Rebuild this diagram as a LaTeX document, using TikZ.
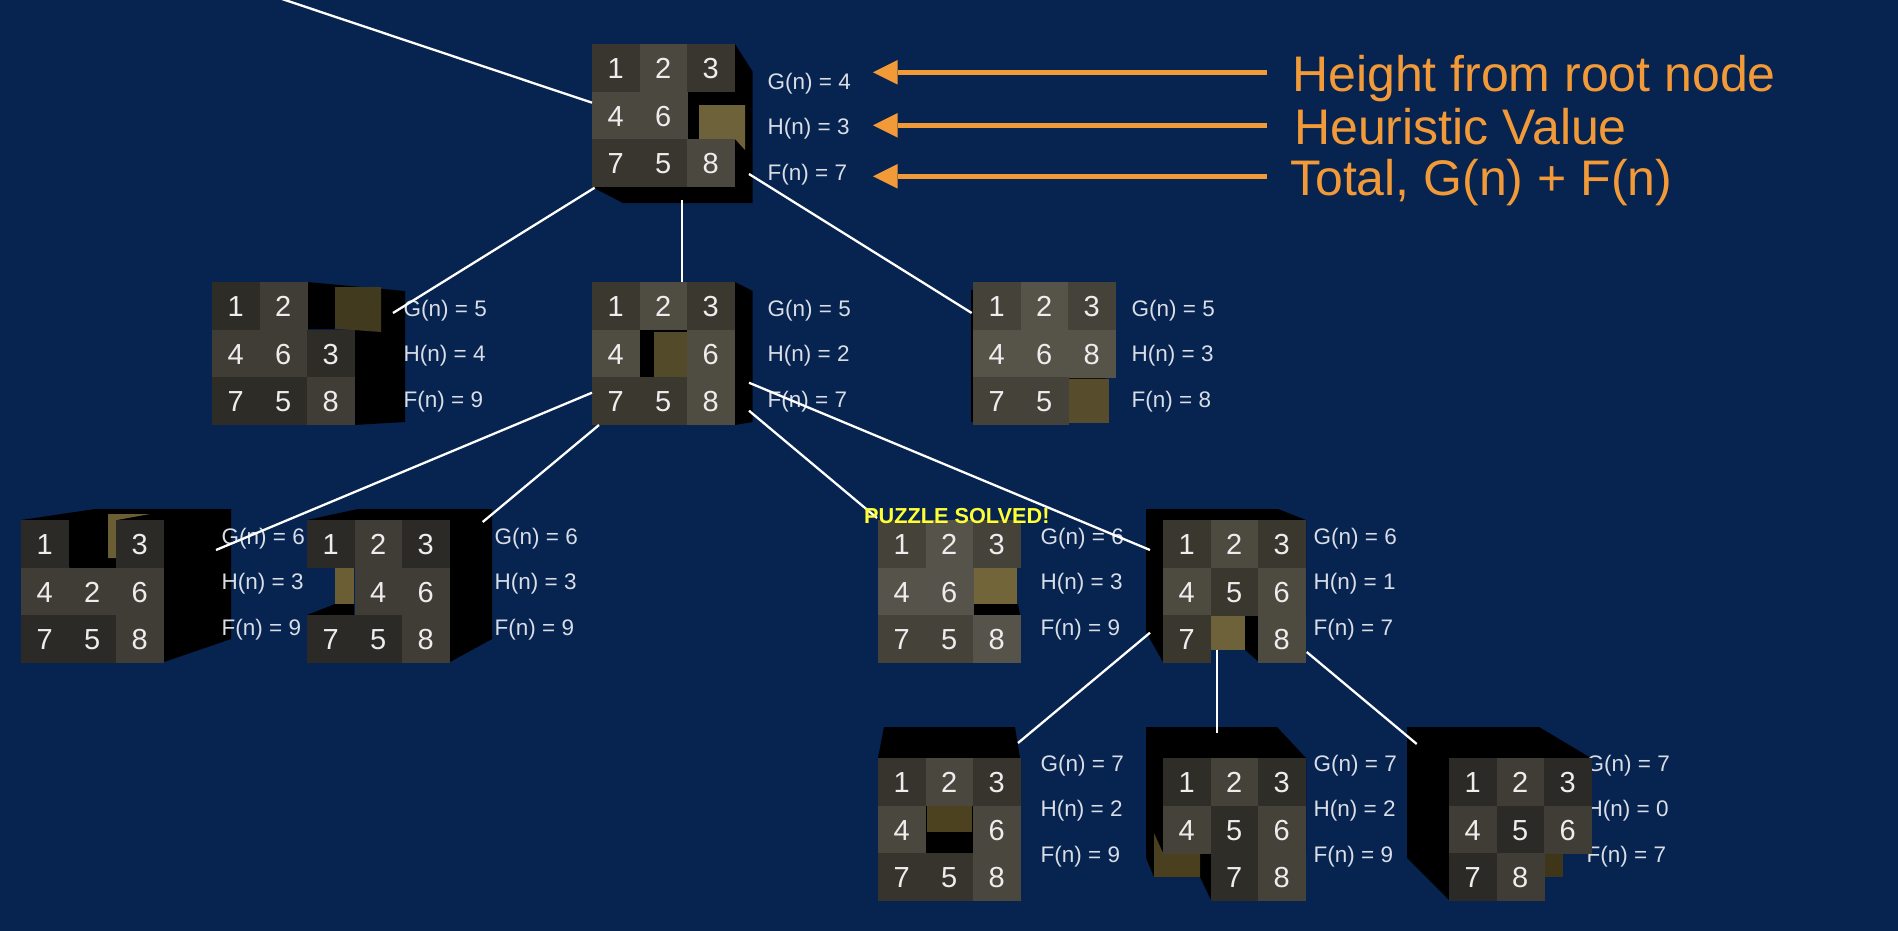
\documentclass[tikz,border=0pt]{standalone}
\usepackage{fontspec}
\setmainfont{Liberation Sans}
\usetikzlibrary{calc}
\definecolor{navy}{HTML}{07234F}
\definecolor{orng}{HTML}{F39A38}
\definecolor{lab}{HTML}{D8DDE6}
\definecolor{aD}{HTML}{39362F}\definecolor{aL}{HTML}{4B4840}\definecolor{aT}{HTML}{6E623A}
\definecolor{bD}{HTML}{2E2C27}\definecolor{bL}{HTML}{403D36}\definecolor{bT}{HTML}{423A1E}
\definecolor{cD}{HTML}{3B3830}\definecolor{cL}{HTML}{4F4C42}\definecolor{cT}{HTML}{524A28}
\definecolor{dD}{HTML}{45423A}\definecolor{dL}{HTML}{565349}\definecolor{dT}{HTML}{574C2C}
\definecolor{eD}{HTML}{2C2A26}\definecolor{eL}{HTML}{403D36}\definecolor{eT}{HTML}{6B5E35}
\definecolor{gD}{HTML}{45423A}\definecolor{gL}{HTML}{56534A}\definecolor{gT}{HTML}{716539}
\definecolor{hD}{HTML}{3A372F}\definecolor{hL}{HTML}{4D4A40}\definecolor{hT}{HTML}{6E623A}
\definecolor{iD}{HTML}{37342D}\definecolor{iL}{HTML}{4A473E}\definecolor{iT}{HTML}{4C4220}
\definecolor{jD}{HTML}{2F2D28}\definecolor{jL}{HTML}{45423A}\definecolor{jT}{HTML}{4A3F1E}
\definecolor{kD}{HTML}{2C2A26}\definecolor{kL}{HTML}{403D36}\definecolor{kT}{HTML}{3F3519}
\tikzset{
  tile/.style={minimum width=47.3pt,minimum height=47.3pt,inner sep=0pt,line width=.2pt,
    text height=22pt,text depth=0pt,
    text=white!93!black,font=\fontsize{29}{32}\selectfont},
  cube/.style={fill=black},
  labeltext/.style={anchor=base west,inner sep=0pt,text=lab,font=\fontsize{22.5}{26}\selectfont},
  bigtext/.style={anchor=base west,inner sep=0pt,text=orng,font=\fontsize{50}{56}\selectfont},
  edge/.style={draw=white,line width=2.3pt},
  pointer/.style={draw=orng,line width=5pt},
  pointerhead/.style={fill=orng},
  solved/.style={anchor=base west,inner sep=0pt,text={rgb,255:red,255;green,255;blue,51},font=\bfseries\fontsize{21.7}{24}\selectfont}
}
% #1 prefix, #2 x0, #3 y0, #4 tile list col/row/digit
\newcommand{\facetiles}[4]{%
  \foreach \cc/\rr/\dd in {#4}{%
    \pgfmathtruncatemacro{\oddq}{mod(\dd,2)}%
    \ifnum\oddq=1 \def\tc{#1D}\else\def\tc{#1L}\fi
    \node[tile,fill=\tc,draw=\tc] (#1-\dd) at ({#2+47.5*(\cc-0.5)},{#3+47.5*(\rr-0.5)}) {\dd};
  }%
}
% #1 prefix, #2 x, #3 first baseline, #4 G, #5 H, #6 F
\newcommand{\fgh}[6]{%
  \node[labeltext] (#1-g) at (#2,#3) {G(n) = #4};
  \node[labeltext] (#1-h) at (#2,#3+45.5) {H(n) = #5};
  \node[labeltext] (#1-f) at (#2,#3+91) {F(n) = #6};
}
\begin{document}
\begin{tikzpicture}[x=1pt,y=-1pt]
\useasboundingbox (0,0) rectangle (1898,930);
\fill[navy] (-5,-5) rectangle (1903,935);

% A: root
\fill[cube] (592,44)--(735,44)--(752.7,71.7)--(752.7,203)--(623,203)--(592,187)--cycle;
\fill[aT] (699,105)--(745,105)--(745,150)--(735,139)--(699,139)--cycle;
\fgh{a}{767.5}{89}{4}{3}{7}
\facetiles{a}{592}{44}{1/1/1,2/1/2,3/1/3,1/2/4,2/2/6,1/3/7,2/3/5,3/3/8}

% B
\fill[cube] (307,282)--(405,291)--(405,422)--(354,425)--(354,329)--(307,329)--cycle;
\fill[bT] (335,287)--(381,287)--(381,332)--(354,330)--(335,329)--cycle;
\fgh{b}{403.5}{316}{5}{4}{9}
\facetiles{b}{212}{282}{1/1/1,2/1/2,1/2/4,2/2/6,3/2/3,1/3/7,2/3/5,3/3/8}

% C
\fill[cube] (640,329)--(735,282)--(752.7,291)--(752.7,422)--(735,425)--(687,377)--(640,377)--cycle;
\fill[cT] (654,332) rectangle (687,377);
\fgh{c}{767.5}{316}{5}{2}{7}
\facetiles{c}{592}{282}{1/1/1,2/1/2,3/1/3,1/2/4,3/2/6,1/3/7,2/3/5,3/3/8}

% D
\fill[cube] (971,290)--(975,290)--(975,422)--(971,422)--cycle;
\fill[black!75!dT] (1068,376) rectangle (1106,381);
\fill[dT] (1068,379) rectangle (1109,423);
\fgh{d}{1131.5}{316}{5}{3}{8}
\facetiles{d}{973}{282}{1/1/1,2/1/2,3/1/3,1/2/4,2/2/6,3/2/8,1/3/7,2/3/5}

% E
\fill[cube] (21,520)--(95,509)--(231,509)--(231,639)--(164,662)--(117,600)--(69,567)--cycle;
\fill[eT] (108,514)--(150,514)--(117,520)--(117,558)--(108,558)--cycle;
\fgh{e}{221.5}{544}{6}{3}{9}
\facetiles{e}{21}{520}{1/1/1,3/1/3,1/2/4,2/2/2,3/2/6,1/3/7,2/3/5,3/3/8}

% F
\fill[cube] (307,520)--(358,509)--(492,509)--(492,639)--(450,662)--(400,600)--(354,520)--cycle;
\fill[cube] (307,615)--(335,604)--(354,604)--(354,615)--cycle;
\fill[eT] (335,567) rectangle (354,604);
\fgh{f}{494.5}{544}{6}{3}{9}
\facetiles{e}{307}{520}{1/1/1,2/1/2,3/1/3,2/2/4,3/2/6,1/3/7,2/3/5,3/3/8}

% G
\fill[cube] (973,604)--(1018,604)--(1020,615)--(973,615)--cycle;
\fill[gT] (973,567) rectangle (1017,604);
\fgh{g}{1040.5}{544}{6}{3}{9}
\facetiles{g}{878}{520}{1/1/1,2/1/2,3/1/3,1/2/4,2/2/6,1/3/7,2/3/5,3/3/8}

% H
\fill[cube] (1146,509)--(1278,509)--(1306,520)--(1306,615)--(1259,662)--(1245,650)--(1245,615)--(1163,662)--(1146,632)--cycle;
\fill[hT] (1211,615) rectangle (1245,650);
\fgh{h}{1313.5}{544}{6}{1}{7}
\facetiles{h}{1163}{520}{1/1/1,2/1/2,3/1/3,1/2/4,2/2/5,3/2/6,1/3/7,3/3/8}

% I
\fill[cube] (878,758)--(884,727)--(1015,727)--(1020,758)--cycle;
\fill[cube] (925,805) rectangle (973,853);
\fill[iT] (927,805) rectangle (972,832);
\fgh{i}{1040.5}{771}{7}{2}{9}
\facetiles{i}{878}{758}{1/1/1,2/1/2,3/1/3,1/2/4,3/2/6,1/3/7,2/3/5,3/3/8}

% J
\fill[cube] (1146,727)--(1277,727)--(1306,758)--(1306,853)--(1211,853)--(1211,900)--(1200,877)--(1154,877)--(1146,858)--cycle;
\fill[jT] (1154,833)--(1163,853)--(1200,853)--(1200,877)--(1154,877)--cycle;
\fgh{j}{1313.5}{771}{7}{2}{9}
\facetiles{j}{1163}{758}{1/1/1,2/1/2,3/1/3,1/2/4,2/2/5,3/2/6,2/3/7,3/3/8}

% K
\fill[cube] (1407,727)--(1539,727)--(1591,758)--(1449,758)--(1449,900)--(1407,858)--cycle;
\fill[kT] (1544,853) rectangle (1563,877);
\fgh{k}{1586.5}{771}{7}{0}{7}
\facetiles{k}{1449}{758}{1/1/1,2/1/2,3/1/3,1/2/4,2/2/5,3/2/6,1/3/7,2/3/8}

% connector ends
\coordinate (top) at (282,-1);
\coordinate (aW) at (592,102.7);
\coordinate (aSW) at (594.7,187.7);
\coordinate (aS) at (681.7,200);
\coordinate (aE) at (749,174);
\coordinate (bE) at (393,313);
\coordinate (cN) at (681.7,282);
\coordinate (dW) at (971.7,313);
\coordinate (cW) at (592,392.7);
\coordinate (cSW) at (599,425);
\coordinate (cE1) at (749,382.7);
\coordinate (cE2) at (749,410.7);
\coordinate (eE) at (216,550);
\coordinate (fE) at (482.7,522);
\coordinate (gW) at (877,518);
\coordinate (hW) at (1150,550);
\coordinate (hSW) at (1150,632.7);
\coordinate (hS) at (1216.7,650);
\coordinate (hSE) at (1306.7,652);
\coordinate (iE) at (1018,743);
\coordinate (jN) at (1216.7,733);
\coordinate (kW) at (1416.7,744);

\draw[edge] (top)--(aW);
\draw[edge] (aSW)--(bE);
\draw[edge] (aS)--(cN);
\draw[edge] (aE)--(dW);
\draw[edge] (cW)--(eE);
\draw[edge] (cSW)--(fE);
\draw[edge] (cE2)--(gW);
\draw[edge] (cE1)--(hW);
\draw[edge] (hSW)--(iE);
\draw[edge] (hS)--(jN);
\draw[edge] (hSE)--(kW);

\node[solved] (solvedtext) at (864,523) {PUZZLE SOLVED!};

% orange pointers
\node[bigtext] (t1) at (1292,91) {Height from root node};
\node[bigtext] (t2) at (1294,144) {Heuristic Value};
\node[bigtext] (t3) at (1290,195.7) {Total, G(n) + F(n)};
\foreach \nm/\yy in {p1/72.3,p2/125.3,p3/176.3}{
  \coordinate (\nm s) at (1267,\yy);
  \coordinate (\nm e) at (897.7,\yy);
  \coordinate (\nm t) at (873,\yy);
  \draw[pointer] (\nm s)--(\nm e);
  \fill[pointerhead] (\nm t)--(897.7,\yy-12.3)--(897.7,\yy+12.3)--cycle;
}
\end{tikzpicture}
\end{document}
